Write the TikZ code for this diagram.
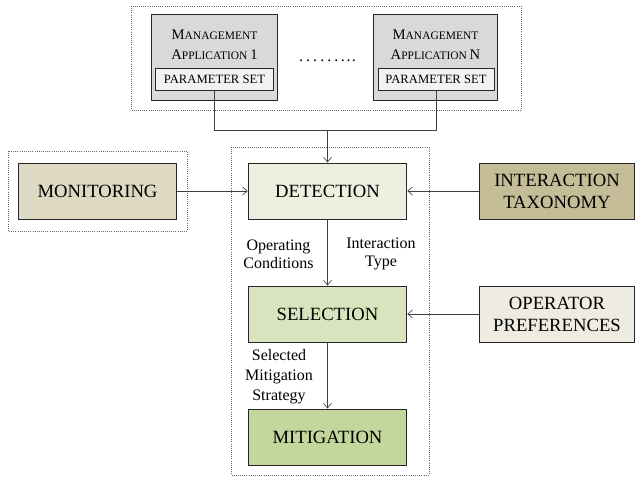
\documentclass[tikz,border=0pt]{standalone}
\usepackage{fontspec}
\setmainfont{Liberation Serif}
\usetikzlibrary{arrows.meta}
\usetikzlibrary{positioning}

\definecolor{appgray}{HTML}{D9D9D9}
\definecolor{pargray}{HTML}{F2F2F2}
\definecolor{monfill}{HTML}{DDD9C3}
\definecolor{taxfill}{HTML}{C4BD97}
\definecolor{preffill}{HTML}{EEECE1}
\definecolor{detfill}{HTML}{EBF1DE}
\definecolor{selfill}{HTML}{D7E4BD}
\definecolor{mitfill}{HTML}{C3D69B}

% small caps by hand
\newcommand{\fsc}[2]{{\fontsize{11}{13}\selectfont #1}{\fontsize{8.6}{13}\selectfont #2}}
\newcommand{\appcapsize}[1]{{\fontsize{11}{13}\selectfont #1}}

\begin{document}
\begin{tikzpicture}[x=0.75pt, y=-0.75pt,
    block/.style={draw=black!85, line width=0.7pt, minimum width=119pt, minimum height=42pt, align=center, font=\fontsize{14}{16.5}\selectfont},
    frame/.style={draw=black!60, densely dotted, line width=0.6pt},
    flow/.style={draw=black!75, line width=0.5pt, -{Straight Barb[length=3.5pt, width=6pt]}},
    lbl/.style={align=center, font=\fontsize{12}{13.5}\selectfont}]
    \useasboundingbox (0,0) rectangle (635,477);

    % dotted frames
    \draw [frame] (131,6) rectangle (521,110);
    \draw [frame] (8,151) rectangle (187,231);
    \draw [frame] (231,147) rectangle (429,475);

    % management applications
    \node [draw=black!85, line width=0.7pt, fill=appgray, minimum width=95pt, minimum height=64pt] (app1) at (214.5,57.5) {};
    \node [align=center, font=\fontsize{11}{15}\selectfont] (app1t) at (214.5,45) {\fsc{M}{ANAGEMENT}\\\fsc{A}{PPLICATION }\appcapsize{1}};
    \node [draw=black!85, line width=0.6pt, fill=pargray, minimum width=89pt, minimum height=17pt, font=\fontsize{9.5}{11}\selectfont] (par1) at (214.5,79.5) {PARAMETER SET};
    \node [draw=black!85, line width=0.7pt, fill=appgray, minimum width=93pt, minimum height=64pt] (appN) at (435.5,57.5) {};
    \node [align=center, font=\fontsize{11}{15}\selectfont] (appNt) at (435.5,45) {\fsc{M}{ANAGEMENT}\\\fsc{A}{PPLICATION }\appcapsize{N}};
    \node [draw=black!85, line width=0.6pt, fill=pargray, minimum width=87pt, minimum height=17pt, font=\fontsize{9.5}{11}\selectfont] (parN) at (436,79.5) {PARAMETER SET};
    \node [font=\fontsize{12}{14}\selectfont] (dots) at (327.5,61) {.\kern2.3pt.\kern2.3pt.\kern2.3pt.\kern2.3pt.\kern2.3pt.\kern1.8pt.\kern1.3pt.\kern1pt.};

    % main blocks
    \node [block, fill=monfill] (mon) at (97.5,191) {MONITORING};
    \node [block, fill=detfill] (det) at (327.5,191) {DETECTION};
    \node [block, fill=taxfill, minimum width=116pt] (tax) at (557,191) {INTERACTION\\TAXONOMY};
    \node [block, fill=selfill] (sel) at (327.5,314) {SELECTION};
    \node [block, fill=preffill, minimum width=116pt] (pref) at (557,314) {OPERATOR\\PREFERENCES};
    \node [block, fill=mitfill] (mit) at (327.5,437) {MITIGATION};

    % connectors
    \coordinate (jn) at (327.5,130);
    \draw [draw=black!75, line width=0.5pt] (par1.south) |- (jn);
    \draw [draw=black!75, line width=0.5pt] (parN.south) |- (jn);
    \draw [flow] (jn) -- (det.north);
    \draw [flow] (mon.east) -- (det.west);
    \draw [flow] (tax.west) -- (det.east);
    \draw [flow] (det.south) -- (sel.north);
    \draw [flow] (pref.west) -- (sel.east);
    \draw [flow] (sel.south) -- (mit.north);

    % labels
    \node [lbl] (opc) at (278.5,254) {Operating\\Conditions};
    \node [lbl] (ityp) at (381,254) {Interaction\\Type};
    \node [lbl, font=\fontsize{12}{15}\selectfont] (sms) at (279,377) {Selected\\Mitigation\\Strategy};
\end{tikzpicture}
\end{document}
